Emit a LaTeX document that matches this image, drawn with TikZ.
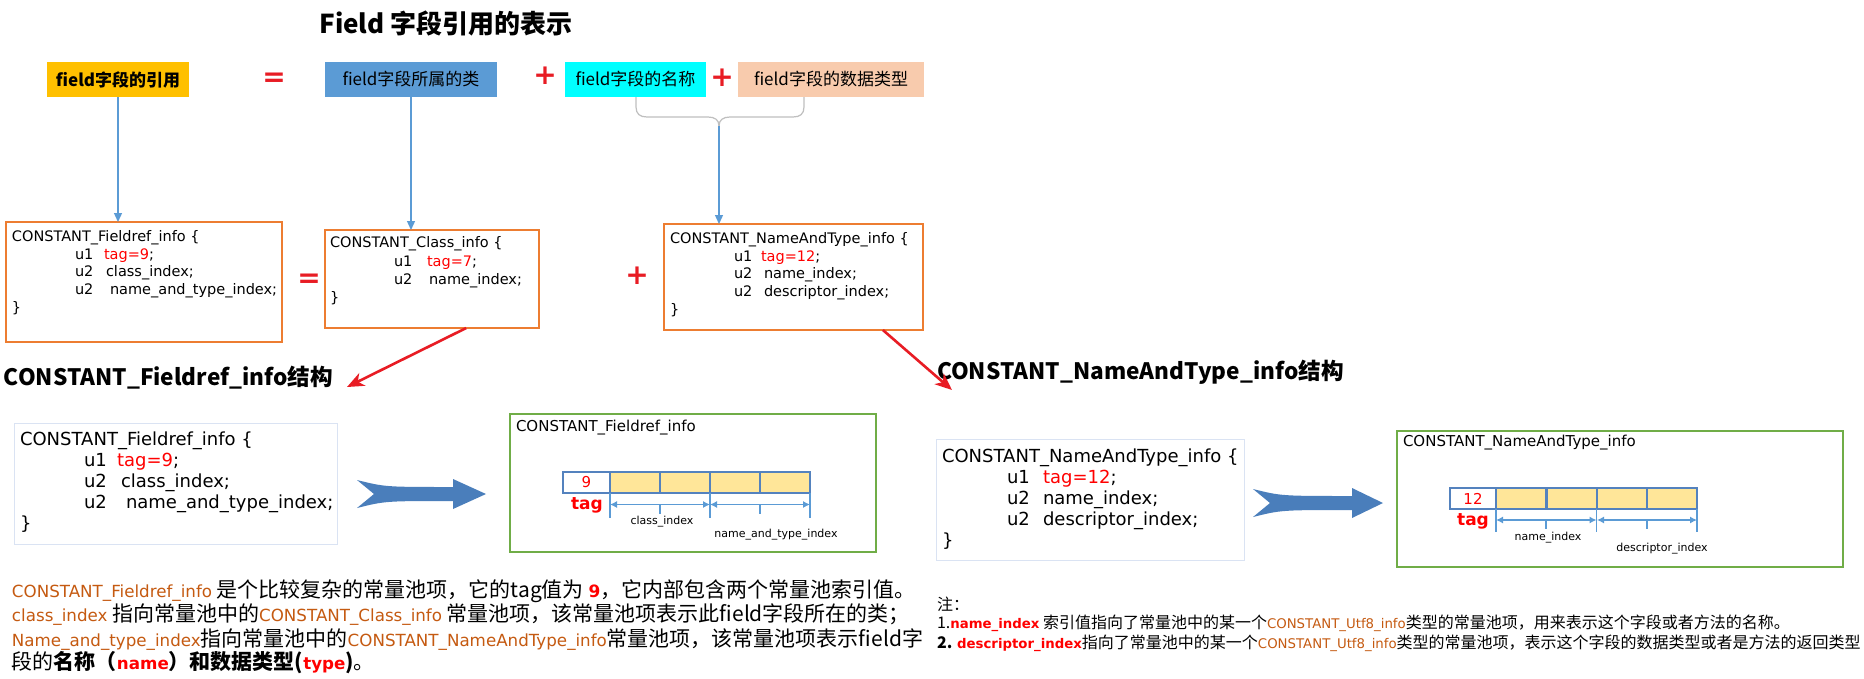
\documentclass[tikz,border=0pt]{standalone}
\usepackage{fontspec}
\setmainfont{Noto Sans CJK SC}
\newfontfamily\cf{DejaVu Sans}
\usetikzlibrary{arrows.meta,calc}
\definecolor{gold}{RGB}{255,192,0}
\definecolor{bluebox}{RGB}{91,155,213}
\definecolor{cyanbox}{RGB}{0,255,255}
\definecolor{peach}{RGB}{248,203,173}
\definecolor{orng}{RGB}{237,125,49}
\definecolor{idorange}{RGB}{197,90,17}
\definecolor{lineblue}{RGB}{91,155,213}
\definecolor{greenb}{RGB}{112,173,71}
\definecolor{cellyellow}{RGB}{255,230,153}
\definecolor{cellborder}{RGB}{84,130,190}
\definecolor{arrowblue}{RGB}{74,126,187}
\definecolor{redc}{RGB}{232,28,36}
\definecolor{codeborder}{RGB}{218,227,243}
\definecolor{bracegray}{RGB}{191,191,191}
\newcommand{\fsz}[1]{\fontsize{#1}{#1}\selectfont}
\newcommand{\idp}[1]{{\cf\fsz{16.7}\color{idorange}#1}}
\newcommand{\idn}[1]{{\cf\fsz{13.3}\color{idorange}#1}}
\begin{document}
\begin{tikzpicture}[x=1pt,y=-1pt,
  every node/.style={inner sep=0pt, outer sep=0pt},
  topbox/.style={minimum height=35pt, font=\fsz{17}},
  codebox/.style={draw=orng, line width=1.2pt, anchor=north west},
  codetxt/.style={anchor=west, font=\cf\fsz{14.5}, text height=10pt, text depth=3pt},
  bigcode/.style={anchor=west, font=\cf\fsz{18}, text height=13pt, text depth=4pt},
  lightbox/.style={draw=codeborder, line width=1pt, anchor=north west},
  greenbox/.style={draw=greenb, line width=1.5pt, anchor=north west},
  gtitle/.style={anchor=west, font=\cf\fsz{15}},
  cell/.style={draw=cellborder, line width=2pt, fill=cellyellow, minimum height=21pt, minimum width=50pt, font=\cf\fsz{15}, text=red},
  dim/.style={draw=lineblue, line width=1.2pt},
  dimarr/.style={dim, {Latex[length=7pt,width=7pt]}-{Latex[length=7pt,width=7pt]}},
  dimlab/.style={font=\cf\fsz{11}},
  taglab/.style={font=\cf\bfseries\fsz{17}, text=red},
  bluearrow/.style={draw=lineblue, line width=1.3pt, -{Triangle[length=9pt,width=8pt]}},
  redarrow/.style={draw=redc, line width=2.6pt, -{Stealth[length=17pt,width=14pt,inset=5pt]}},
  opsign/.style={font=\cf\bfseries\fsz{28}, text=redc},
  heading/.style={anchor=west, font=\bfseries\fsz{22.6}},
  para/.style={anchor=west, font=\fsz{21}},
  note/.style={anchor=west, font=\fsz{16}}
]
\useasboundingbox (0,0) rectangle (1864,678);
\fill[white] (0,0) rectangle (1864,678);

% title
\node[font=\bfseries\fsz{26}] (title) at (446,23) {Field 字段引用的表示};

% top row
\node[topbox, fill=gold, minimum width=142pt, font=\bfseries\fsz{17}] (f1) at (118,79.5) {field字段的引用};
\node[opsign] (eq1) at (274,80) {=};
\node[topbox, fill=bluebox, minimum width=172pt] (f2) at (411,79.5) {field字段所属的类};
\node[opsign] (pl1) at (545,76) {+};
\node[topbox, fill=cyanbox, minimum width=141pt] (f3) at (635.5,79.5) {field字段的名称};
\node[opsign] (pl2) at (722,78) {+};
\node[topbox, fill=peach, minimum width=186pt] (f4) at (831,79.5) {field字段的数据类型};

% brace
\draw[bracegray, line width=1.2pt] (636,97) -- (636,107) .. controls (636,114) and (640,117) .. (647,117) -- (708,117) .. controls (715,117) and (719,120) .. (719,126);
\draw[bracegray, line width=1.2pt] (804,97) -- (804,107) .. controls (804,114) and (800,117) .. (793,117) -- (730,117) .. controls (723,117) and (719,120) .. (719,126);
\coordinate (bt) at (719,126);

% middle code boxes
\node[codebox, minimum width=276pt, minimum height=120pt] (fr) at (6,222) {};
\node[codetxt] at (12,238) {CONSTANT\_Fieldref\_info \{};
\node[codetxt] at (75,256) {u1};
\node[codetxt] at (104,256) {\textcolor{red}{tag=9};};
\node[codetxt] at (75,273) {u2};
\node[codetxt] at (106,273) {class\_index;};
\node[codetxt] at (75,291) {u2};
\node[codetxt] at (110,291) {name\_and\_type\_index;};
\node[codetxt] at (12,309) {\}};

\node[opsign] (eq2) at (309,281) {=};

\node[codebox, minimum width=214pt, minimum height=98pt] (cls) at (325,230) {};
\node[codetxt] at (330,244) {CONSTANT\_Class\_info \{};
\node[codetxt] at (394,263) {u1};
\node[codetxt] at (427,263) {\textcolor{red}{tag=7};};
\node[codetxt] at (394,281) {u2};
\node[codetxt] at (429,281) {name\_index;};
\node[codetxt] at (330,299) {\}};

\node[opsign] (pl3) at (637,276) {+};

\node[codebox, minimum width=259pt, minimum height=106pt] (nt) at (664,224) {};
\node[codetxt] at (670,240) {CONSTANT\_NameAndType\_info \{};
\node[codetxt] at (734,258) {u1};
\node[codetxt] at (761,258) {\textcolor{red}{tag=12};};
\node[codetxt] at (734,275) {u2};
\node[codetxt] at (764,275) {name\_index;};
\node[codetxt] at (734,293) {u2};
\node[codetxt] at (764,293) {descriptor\_index;};
\node[codetxt] at (670,311) {\}};

% vertical arrows
\draw[bluearrow] (f1.south) -- (f1.south |- fr.north);
\draw[bluearrow] (f2.south) -- (f2.south |- cls.north);
\draw[bluearrow] (bt) -- (bt |- nt.north);

% headings
\node[heading] (h1) at (4,378) {CONSTANT\_Fieldref\_info结构};
\node[heading] (h2) at (937,372) {CONSTANT\_NameAndType\_info结构};

% red arrows
\coordinate (r1e) at (347,387);
\coordinate (r2e) at (952,390);
\draw[redarrow] ($(cls.south west)!0.66!(cls.south east)$) -- (r1e);
\draw[redarrow] ($(nt.south west)!0.845!(nt.south east)$) -- (r2e);

% bottom-left code box
\node[lightbox, minimum width=323pt, minimum height=121pt] (bc1) at (14,423) {};
\node[bigcode] at (20,441) {CONSTANT\_Fieldref\_info \{};
\node[bigcode] at (84,462) {u1};
\node[bigcode] at (117,462) {\textcolor{red}{tag=9};};
\node[bigcode] at (84,483) {u2};
\node[bigcode] at (121,483) {class\_index;};
\node[bigcode] at (84,504) {u2};
\node[bigcode] at (126,504) {name\_and\_type\_index;};
\node[bigcode] at (20,525) {\}};

% chevron arrow left
\fill[arrowblue] (357,480) .. controls (385,487) .. (453,487) -- (453,479) -- (486,494) -- (453,509) -- (453,501) .. controls (385,501) .. (357,508) -- (374,494) -- cycle;

% green box left
\node[greenbox, minimum width=366pt, minimum height=138pt] (g1) at (510,414) {};
\node[gtitle] at (516,428) {CONSTANT\_Fieldref\_info};
\node[cell, fill=white, minimum width=47pt] (a0) at (586.5,482) {9};
\node[cell] (a1) at (635,482) {};
\node[cell] (a2) at (685,482) {};
\node[cell] (a3) at (735,482) {};
\node[cell] (a4) at (785,482) {};
\node[taglab] at (587,505) {tag};
\draw[dim] (a1.south west) -- ++(0,25);
\draw[dim] (a2.south east) -- ++(0,25);
\draw[dim] (a4.south east) -- ++(0,25);
\draw[dimarr] ($(a1.south west)+(0,12)$) -- ($(a2.south east)+(0,12)$);
\draw[dimarr] ($(a3.south west)+(0,12)$) -- ($(a4.south east)+(0,12)$);
\draw[dim] ($(a1.south east)+(0,12)$) -- ++(0,9);
\draw[dim] ($(a3.south east)+(0,12)$) -- ++(0,9);
\node[dimlab] at (662,522) {class\_index};
\node[dimlab] at (776,535) {name\_and\_type\_index};

% bottom-right code box
\node[lightbox, minimum width=308pt, minimum height=121pt] (bc2) at (936,439) {};
\node[bigcode] at (942,458) {CONSTANT\_NameAndType\_info \{};
\node[bigcode] at (1007,479) {u1};
\node[bigcode] at (1043,479) {\textcolor{red}{tag=12};};
\node[bigcode] at (1007,500) {u2};
\node[bigcode] at (1043,500) {name\_index;};
\node[bigcode] at (1007,521) {u2};
\node[bigcode] at (1043,521) {descriptor\_index;};
\node[bigcode] at (942,542) {\}};

% chevron arrow right
\fill[arrowblue] (1253,489) .. controls (1281,496) .. (1352,496) -- (1352,488) -- (1383,503) -- (1352,518) -- (1352,510) .. controls (1281,510) .. (1253,517) -- (1270,503) -- cycle;

% green box right
\node[greenbox, minimum width=446pt, minimum height=136pt] (g2) at (1397,431) {};
\node[gtitle] at (1403,443) {CONSTANT\_NameAndType\_info};
\node[cell, fill=white, minimum width=46pt] (b0) at (1473,498.5) {12};
\node[cell] (b1) at (1521,498.5) {};
\node[cell] (b2) at (1571.5,498.5) {};
\node[cell] (b3) at (1622,498.5) {};
\node[cell] (b4) at (1672,498.5) {};
\node[taglab] at (1473,521) {tag};
\draw[dim] (b1.south west) -- ++(0,23);
\draw[dim] (b2.south east) -- ++(0,23);
\draw[dim] (b4.south east) -- ++(0,23);
\draw[dimarr] ($(b1.south west)+(0,11)$) -- ($(b2.south east)+(0,11)$);
\draw[dimarr] ($(b3.south west)+(0,11)$) -- ($(b4.south east)+(0,11)$);
\draw[dim] ($(b1.south east)+(0,11)$) -- ++(0,9);
\draw[dim] ($(b3.south east)+(0,11)$) -- ++(0,9);
\node[dimlab] at (1548,538) {name\_index};
\node[dimlab] at (1662,549) {descriptor\_index};

% bottom-left paragraph
\node[para] (p1) at (12,591) {\idp{CONSTANT\_Fieldref\_info} 是个比较复杂的常量池项，它的tag值为 {\cf\bfseries\fsz{17}\color{red}9}，它内部包含两个常量池索引值。};
\node[para] (p2) at (12,615) {\idp{class\_index} 指向常量池中的\idp{CONSTANT\_Class\_info} 常量池项，该常量池项表示此field字段所在的类；};
\node[para] (p3) at (12,640) {\idp{Name\_and\_type\_index}指向常量池中的\idp{CONSTANT\_NameAndType\_info}常量池项，该常量池项表示field字};
\node[para] (p4) at (12,663) {段的{\bfseries 名称（{\cf\fsz{16.7}\color{red}name}）和数据类型({\cf\fsz{16.7}\color{red}type})}。};

% bottom-right notes
\node[note] (n0) at (937,604) {注：};
\node[note] (n1) at (937,623) {1.{\cf\bfseries\fsz{13.3}\color{red}name\_index} 索引值指向了常量池中的某一个\idn{CONSTANT\_Utf8\_info}类型的常量池项，用来表示这个字段或者方法的名称。};
\node[note] (n2) at (937,643) {{\bfseries 2.} {\cf\bfseries\fsz{13.3}\color{red}descriptor\_index}指向了常量池中的某一个\idn{CONSTANT\_Utf8\_info}类型的常量池项，表示这个字段的数据类型或者是方法的返回类型};
\end{tikzpicture}
\end{document}
